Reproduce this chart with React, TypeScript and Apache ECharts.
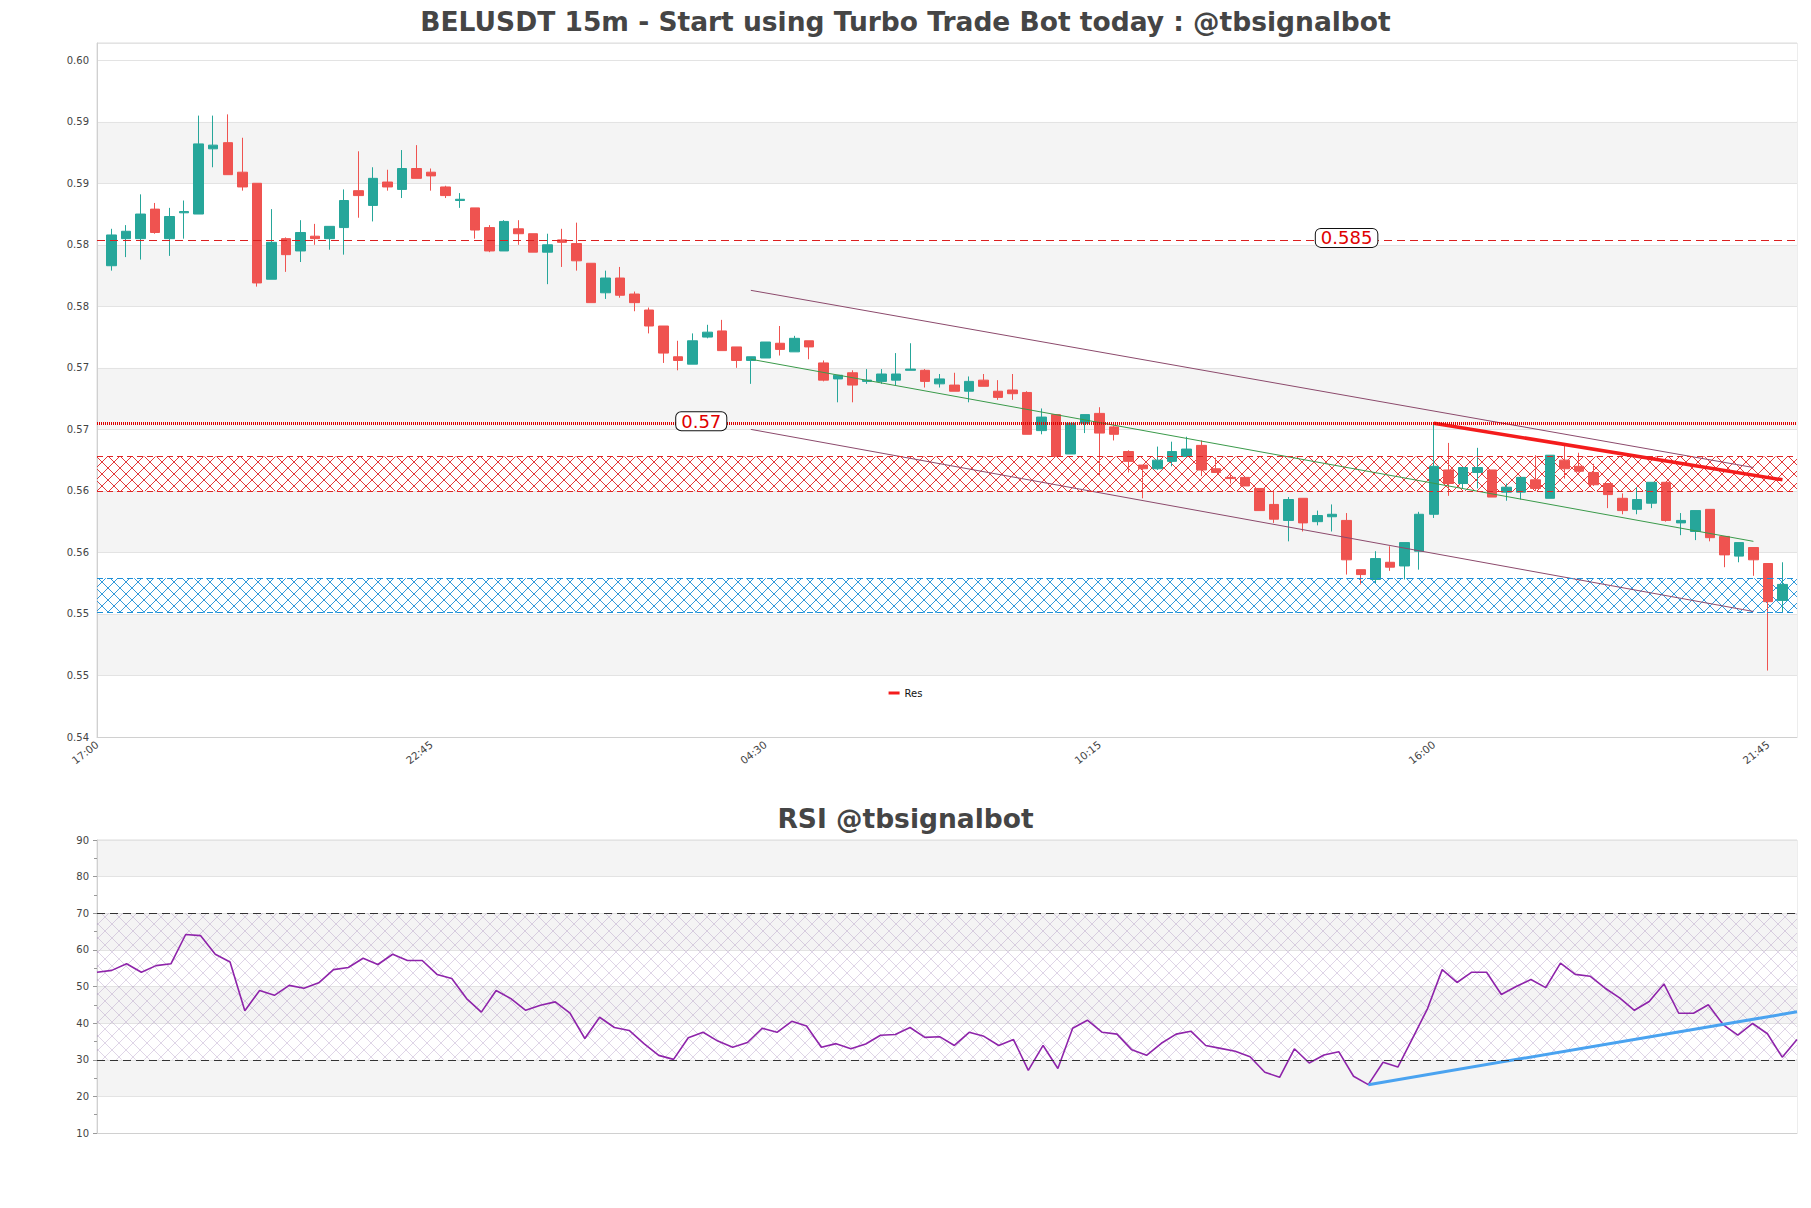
import React, { useEffect, useRef } from 'react';
import * as echarts from 'echarts';

// ---------- data ----------
const TITLE_MAIN = 'BELUSDT 15m - Start using Turbo Trade Bot today : @tbsignalbot';
const TITLE_RSI = 'RSI @tbsignalbot';
const START_TIME = '17:00';
const STEP_MIN = 15;
const MAIN_SLOTS = 118; // one empty slot before and after the candles
const X_LABEL_EVERY = 23;

const OPEN = [0.5833,0.5855,0.5855,0.5879,0.5855,0.5876,0.5875,0.5928,0.5933,0.5909,
0.5900,0.5822,0.5855,0.5845,0.5857,0.5855,0.5864,0.5894,0.5882,0.5901,
0.5895,0.5912,0.5909,0.5897,0.5886,0.5880,0.5864,0.5845,0.5863,0.5859,
0.5844,0.5854,0.5851,0.5835,0.5811,0.5823,0.5810,0.5797,0.5784,0.5759,
0.5753,0.5775,0.5780,0.5767,0.5756,0.5758,0.5770,0.5763,0.5772,0.5754,
0.5741,0.5746,0.5739,0.5739,0.5740,0.5748,0.5748,0.5737,0.5736,0.5731,
0.5740,0.5731,0.5732,0.5730,0.5699,0.5712,0.5680,0.5705,0.5713,0.5702,
0.5682,0.5671,0.5668,0.5674,0.5678,0.5687,0.5668,0.5661,0.5661,0.5652,
0.5639,0.5626,0.5644,0.5625,0.5629,0.5626,0.5586,0.5578,0.5592,0.5589,
0.5601,0.5631,0.5667,0.5656,0.5665,0.5667,0.5649,0.5649,0.5659,0.5644,
0.5675,0.5670,0.5665,0.5656,0.5644,0.5635,0.5640,0.5657,0.5624,0.5617,
0.5635,0.5613,0.5597,0.5604,0.5591,0.5561];

const CLOSE = [0.5858,0.5861,0.5875,0.5860,0.5873,0.5877,0.5932,0.5931,0.5907,0.5897,
0.5819,0.5852,0.5842,0.5860,0.5855,0.5865,0.5886,0.5890,0.5904,0.5897,
0.5912,0.5904,0.5906,0.5890,0.5887,0.5862,0.5845,0.5869,0.5859,0.5844,
0.5850,0.5852,0.5837,0.5803,0.5823,0.5809,0.5803,0.5784,0.5762,0.5756,
0.5772,0.5779,0.5764,0.5756,0.5759,0.5771,0.5765,0.5774,0.5767,0.5740,
0.5744,0.5736,0.5740,0.5745,0.5745,0.5749,0.5739,0.5741,0.5731,0.5739,
0.5735,0.5726,0.5729,0.5696,0.5710,0.5678,0.5705,0.5712,0.5697,0.5696,
0.5674,0.5668,0.5675,0.5682,0.5684,0.5667,0.5665,0.5660,0.5654,0.5634,
0.5627,0.5643,0.5624,0.5630,0.5631,0.5594,0.5582,0.5595,0.5588,0.5608,
0.5631,0.5670,0.5656,0.5669,0.5669,0.5645,0.5653,0.5661,0.5652,0.5679,
0.5668,0.5666,0.5655,0.5647,0.5634,0.5643,0.5657,0.5626,0.5626,0.5634,
0.5612,0.5598,0.5608,0.5594,0.5560,0.5574];

const LOW = [0.5829,0.5840,0.5838,0.5859,0.5841,0.5855,0.5875,0.5913,0.5907,0.5894,
0.5816,0.5822,0.5828,0.5836,0.5850,0.5846,0.5842,0.5872,0.5869,0.5894,
0.5888,0.5904,0.5894,0.5888,0.5880,0.5855,0.5844,0.5845,0.5850,0.5844,
0.5818,0.5832,0.5829,0.5803,0.5806,0.5807,0.5796,0.5778,0.5754,0.5748,
0.5753,0.5774,0.5764,0.5750,0.5737,0.5758,0.5760,0.5763,0.5757,0.5739,
0.5722,0.5722,0.5737,0.5737,0.5736,0.5748,0.5734,0.5734,0.5731,0.5722,
0.5735,0.5724,0.5724,0.5696,0.5696,0.5678,0.5680,0.5697,0.5662,0.5691,
0.5665,0.5644,0.5667,0.5670,0.5678,0.5662,0.5665,0.5656,0.5654,0.5634,
0.5624,0.5609,0.5617,0.5622,0.5617,0.5582,0.5574,0.5575,0.5585,0.5578,
0.5586,0.5628,0.5646,0.5652,0.5652,0.5645,0.5642,0.5643,0.5650,0.5644,
0.5660,0.5665,0.5654,0.5636,0.5631,0.5631,0.5636,0.5625,0.5614,0.5610,
0.5609,0.5588,0.5592,0.5581,0.5504,0.5551];

const HIGH = [0.5863,0.5866,0.5891,0.5884,0.5880,0.5886,0.5955,0.5955,0.5956,0.5937,
0.5900,0.5879,0.5856,0.5870,0.5867,0.5865,0.5895,0.5926,0.5913,0.5911,
0.5927,0.5931,0.5912,0.5898,0.5892,0.5880,0.5866,0.5870,0.5870,0.5859,
0.5859,0.5863,0.5868,0.5835,0.5829,0.5832,0.5812,0.5799,0.5784,0.5772,
0.5778,0.5785,0.5789,0.5767,0.5759,0.5771,0.5784,0.5776,0.5772,0.5756,
0.5744,0.5748,0.5749,0.5749,0.5762,0.5770,0.5749,0.5745,0.5746,0.5743,
0.5745,0.5740,0.5745,0.5731,0.5717,0.5712,0.5705,0.5712,0.5718,0.5703,
0.5683,0.5671,0.5686,0.5690,0.5694,0.5691,0.5677,0.5664,0.5661,0.5652,
0.5650,0.5645,0.5644,0.5634,0.5639,0.5632,0.5586,0.5601,0.5605,0.5608,
0.5633,0.5705,0.5689,0.5669,0.5685,0.5667,0.5656,0.5661,0.5679,0.5679,
0.5688,0.5681,0.5672,0.5656,0.5648,0.5653,0.5657,0.5657,0.5632,0.5634,
0.5635,0.5613,0.5608,0.5604,0.5591,0.5592];

const RSI = [53.9,54.4,56.2,53.9,55.7,56.2,64.2,63.9,58.8,56.7,
43.4,48.9,47.6,50.3,49.5,51.0,54.6,55.2,57.7,56.0,
58.8,57.1,57.1,53.3,52.2,46.7,43.0,48.9,46.7,43.5,
44.9,45.8,42.7,35.8,41.6,38.8,38.0,34.4,31.2,30.1,
36.0,37.5,35.1,33.4,34.7,38.6,37.5,40.5,39.2,33.4,
34.4,33.0,34.3,36.7,36.9,38.8,36.1,36.3,33.9,37.5,
36.4,33.9,35.5,27.1,33.9,27.6,38.6,40.8,37.5,37.0,
32.7,31.2,34.5,37.0,37.8,33.9,33.1,32.3,30.8,26.6,
25.2,33.0,29.1,31.3,32.2,25.5,23.2,29.3,28.0,35.9,
43.9,54.6,51.1,53.9,53.9,47.8,50.0,51.9,49.7,56.4,
53.3,52.8,49.6,46.9,43.5,45.9,50.7,42.7,42.7,45.0,
39.6,36.7,39.9,37.1,30.7,35.5];

// horizontal levels (price)
const LEVEL_DASHED = 0.5854;
const LEVEL_DASHED_TEXT = '0.585';
const LEVEL_DASHED_LABEL_AT = 85; // candle index where its tag sits
const LEVEL_DOTTED = 0.5705;
const LEVEL_DOTTED_TEXT = '0.57';
const LEVEL_DOTTED_LABEL_AT = 41;
const RES_ZONE = [0.5650, 0.5678];
const SUP_ZONE = [0.5551, 0.5579];

// trend lines: [candleIndex, price]
const CHANNEL_UPPER = [[44, 0.5813], [113, 0.5669]];
const CHANNEL_LOWER = [[44, 0.5700], [113, 0.5552]];
const CHANNEL_MID = [[44, 0.5757], [113, 0.5609]];
const RES_LINE = [[91, 0.5705], [115, 0.5659]];
// RSI trend line: [rsiIndex, value]
const RSI_SUPPORT = [[86, 23.2], [115, 43.1]];
const RSI_LEVELS = [70, 30];

// ---------- helpers ----------
function buildTimes(start: string, step: number, n: number): string[] {
  const [h, m] = start.split(':').map(Number);
  const out: string[] = [];
  for (let i = 0; i < n; i++) {
    const t = (h * 60 + m + i * step) % (24 * 60);
    out.push(String(Math.floor(t / 60)).padStart(2, '0') + ':' + String(t % 60).padStart(2, '0'));
  }
  return out;
}

function hatch(color: string, size: number, width: number, opacity: number) {
  const svg = `<svg xmlns="http://www.w3.org/2000/svg" width="${size}" height="${size}"><path d="M0 0L${size} ${size}M${size} 0L0 ${size}" stroke="${color}" stroke-opacity="${opacity}" stroke-width="${width}" fill="none"/></svg>`;
  return {
    image: 'data:image/svg+xml;charset=utf-8,' + encodeURIComponent(svg),
    repeat: 'repeat',
    imageWidth: size,
    imageHeight: size,
  };
}

const FONT = 'DejaVu Sans';
const UP = '#26a69a';
const DOWN = '#ef5350';
const Y_STEP = 0.005;

function buildOption() {
  const mainCats = buildTimes(START_TIME, STEP_MIN, MAIN_SLOTS);
  const rsiCats = buildTimes(START_TIME, STEP_MIN, RSI.length);
  const candles = OPEN.map((o, i) => [i + 1, o, CLOSE[i], LOW[i], HIGH[i]]);
  const toSlot = (pts: number[][]) => pts.map(([i, v]) => [i + 1, v]);

  const mainSplitColors: string[] = [];
  for (let i = 0; i < 12; i++) mainSplitColors.push(i % 2 === 1 && i < 11 ? '#f4f4f4' : '#ffffff');

  const redDash = { color: '#e02424', width: 1, type: [6, 4] };
  const blueDash = { color: '#1c8fd6', width: 1, type: [6, 4] };

  const trend = (name: string, data: number[][], color: string, width: number) => ({
    name,
    type: 'line',
    xAxisIndex: 0,
    yAxisIndex: 0,
    data: toSlot(data),
    symbol: 'none',
    silent: true,
    color,
    lineStyle: { color, width },
    z: 4,
  });

  const tagLabel = {
    show: true,
    position: 'inside',
    formatter: (p: any) => p.name,
    color: '#e00000',
    fontSize: 18,
    fontFamily: FONT,
    lineHeight: 18,
    backgroundColor: '#ffffff',
    borderColor: '#111111',
    borderWidth: 1,
    borderRadius: 5,
    padding: [0, 5, 0, 5],
  };

  return {
    animation: false,
    backgroundColor: '#ffffff',
    textStyle: { fontFamily: FONT },
    title: [
      { text: TITLE_MAIN, left: 'center', top: 8, padding: 0,
        textStyle: { fontSize: 26.5, fontWeight: 'bold', color: '#454545', fontFamily: FONT } },
      { text: TITLE_RSI, left: 'center', top: 805, padding: 0,
        textStyle: { fontSize: 26.5, fontWeight: 'bold', color: '#454545', fontFamily: FONT } },
    ],
    legend: {
      data: ['Res'], left: 'center', top: 688, padding: 0,
      icon: 'rect', itemWidth: 11, itemHeight: 3, itemGap: 6,
      textStyle: { fontSize: 10, color: '#111', fontFamily: FONT },
    },
    grid: [
      { left: 97, top: 43, width: 1700, height: 694, show: true, borderColor: '#dcdcdc', borderWidth: 1, backgroundColor: 'transparent' },
      { left: 97, top: 840, width: 1700, height: 293, show: true, borderColor: '#dcdcdc', borderWidth: 1, backgroundColor: 'transparent' },
    ],
    xAxis: [
      {
        type: 'category', gridIndex: 0, data: mainCats, boundaryGap: false,
        axisLine: { show: true, lineStyle: { color: '#d0d0d0' } },
        axisTick: { show: false },
        axisLabel: { interval: X_LABEL_EVERY - 1, rotate: 38, fontSize: 10.5, color: '#444', margin: 6, fontFamily: FONT },
        splitLine: { show: false },
      },
      {
        type: 'category', gridIndex: 1, data: rsiCats, boundaryGap: false,
        axisLine: { show: true, lineStyle: { color: '#d0d0d0' } },
        axisTick: { show: false },
        axisLabel: { show: false },
        splitLine: { show: false },
      },
    ],
    yAxis: [
      {
        type: 'value', gridIndex: 0, min: 0.545, max: 0.6014, interval: Y_STEP, scale: true,
        axisLine: { show: true, lineStyle: { color: '#d0d0d0' } },
        axisTick: { show: false },
        axisLabel: {
          fontSize: 10, color: '#444', margin: 8, fontFamily: FONT, showMaxLabel: false,
          formatter: (v: number) => {
            const k = v / Y_STEP;
            if (Math.abs(k - Math.round(k)) > 1e-6) return '';
            return (Math.floor(v * 100 + 1e-6) / 100).toFixed(2);
          },
        },
        splitLine: { show: true, lineStyle: { color: '#e3e3e3', width: 1 } },
        splitArea: { show: true, areaStyle: { color: mainSplitColors } },
      },
      {
        type: 'value', gridIndex: 1, min: 10, max: 90, interval: 10,
        axisLine: { show: true, lineStyle: { color: '#d0d0d0' } },
        axisTick: { show: true, length: 4, lineStyle: { color: '#999' } },
        minorTick: { show: true, splitNumber: 2, length: 3, lineStyle: { color: '#999' } },
        axisLabel: { fontSize: 10, color: '#444', margin: 8, fontFamily: FONT },
        splitLine: { show: true, lineStyle: { color: '#e3e3e3', width: 1 } },
        splitArea: { show: true, areaStyle: { color: ['#ffffff', '#f4f4f4'] } },
      },
    ],
    series: [
      {
        name: 'BELUSDT',
        type: 'candlestick',
        xAxisIndex: 0,
        yAxisIndex: 0,
        data: candles,
        encode: { x: 0, y: [1, 2, 3, 4] },
        barWidth: 10,
        itemStyle: { color: UP, color0: DOWN, borderColor: UP, borderColor0: DOWN, borderWidth: 1 },
        markArea: {
          silent: true,
          data: [
            [{ yAxis: RES_ZONE[0], itemStyle: { color: hatch('#e02424', 12, 0.9, 1) } }, { yAxis: RES_ZONE[1] }],
            [{ yAxis: SUP_ZONE[0], itemStyle: { color: hatch('#1c8fd6', 12, 0.9, 1) } }, { yAxis: SUP_ZONE[1] }],
          ],
        },
        markLine: {
          silent: true,
          precision: 6,
          symbol: ['none', 'none'],
          label: { show: false },
          data: [
            { yAxis: LEVEL_DASHED, lineStyle: { color: '#dc1f1f', width: 1.2, type: [8, 5] } },
            { yAxis: LEVEL_DOTTED, lineStyle: { color: '#dd0000', width: 3, type: [1, 1] } },
            { yAxis: RES_ZONE[0], lineStyle: redDash },
            { yAxis: RES_ZONE[1], lineStyle: redDash },
            { yAxis: SUP_ZONE[0], lineStyle: blueDash },
            { yAxis: SUP_ZONE[1], lineStyle: blueDash },
          ],
        },
        markPoint: {
          silent: true,
          symbol: 'rect',
          symbolSize: 1,
          itemStyle: { color: 'rgba(0,0,0,0)' },
          label: tagLabel,
          data: [
            { name: LEVEL_DASHED_TEXT, coord: [LEVEL_DASHED_LABEL_AT + 1, LEVEL_DASHED], label: { ...tagLabel, offset: [0, -2] } },
            { name: LEVEL_DOTTED_TEXT, coord: [LEVEL_DOTTED_LABEL_AT + 1, LEVEL_DOTTED], label: { ...tagLabel, offset: [-6, -2] } },
          ],
        },
      },
      trend('upper', CHANNEL_UPPER, '#8c4a6c', 1),
      trend('lower', CHANNEL_LOWER, '#8c4a6c', 1),
      trend('mid', CHANNEL_MID, '#3a9a4a', 1),
      trend('Res', RES_LINE, '#f41c1c', 3.5),
      {
        name: 'RSI',
        type: 'line',
        xAxisIndex: 1,
        yAxisIndex: 1,
        data: RSI,
        symbol: 'none',
        silent: true,
        color: '#8e24aa',
        lineStyle: { color: '#8e24aa', width: 1.6 },
        z: 3,
        markArea: {
          silent: true,
          data: [[{ yAxis: RSI_LEVELS[1], itemStyle: { color: hatch('#9a7cb4', 14, 0.8, 0.4) } }, { yAxis: RSI_LEVELS[0] }]],
        },
        markLine: {
          silent: true,
          precision: 4,
          symbol: ['none', 'none'],
          label: { show: false },
          lineStyle: { color: '#333', width: 1.2, type: [8, 5] },
          data: RSI_LEVELS.map((v) => ({ yAxis: v })),
        },
      },
      {
        name: 'RSI support',
        type: 'line',
        xAxisIndex: 1,
        yAxisIndex: 1,
        data: RSI_SUPPORT,
        symbol: 'none',
        silent: true,
        color: '#4aa3f0',
        lineStyle: { color: '#4aa3f0', width: 3 },
        z: 4,
      },
    ],
  };
}

export default function App() {
  const ref = useRef<HTMLDivElement>(null);
  useEffect(() => {
    if (!ref.current) return;
    const chart = echarts.init(ref.current, undefined, { renderer: 'svg' });
    chart.setOption(buildOption() as any);
    return () => chart.dispose();
  }, []);
  return (
    <div
      ref={ref}
      style={{ position: 'absolute', left: 0, top: 0, width: 1811, height: 1208, background: '#fff' }}
    />
  );
}
